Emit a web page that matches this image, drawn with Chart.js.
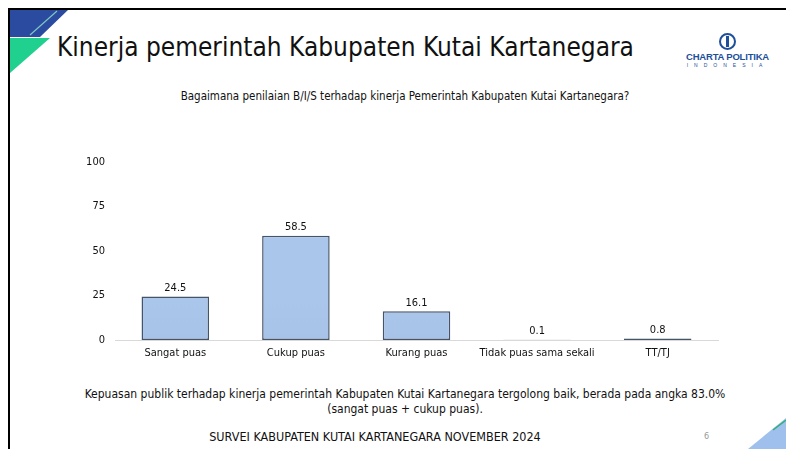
<!DOCTYPE html>
<html>
<head>
<meta charset="utf-8">
<script src="https://cdn.jsdelivr.net/npm/chart.js@4.4.1/dist/chart.umd.min.js"></script>
<style>
  html, body { margin: 0; padding: 0; background: #fff; }
  body { width: 786px; height: 449px; position: relative; overflow: hidden; font-family: Tahoma, "DejaVu Sans Condensed", "DejaVu Sans", sans-serif; }
  .border-top { position: absolute; left: 8px; top: 8px; width: 778px; height: 2px; background: #000; }
  .border-left { position: absolute; left: 8px; top: 8px; width: 2px; height: 441px; background: #000; }
  #title { position: absolute; left: 57px; top: 32px; font-size: 26px; color: #111; white-space: nowrap; }
  #subtitle { position: absolute; left: 0; width: 810px; top: 89px; text-align: center; font-size: 11.5px; color: #111; }
  #note { position: absolute; left: 40px; width: 730px; top: 387px; text-align: center; font-size: 12px; line-height: 15px; color: #111; }
  #footer { position: absolute; left: 0; width: 750px; top: 429px; text-align: center; font-size: 12.5px; color: #111; }
  #page { position: absolute; left: 704px; top: 431px; font-size: 9px; color: #999; }
  #logo { position: absolute; left: 680px; top: 33px; width: 95px; text-align: center; }
  #logo .ring { width: 13px; height: 13px; border: 2.5px solid #1d4f9a; border-radius: 50%; margin: 0 auto; position: relative; }
  #logo .ring:after { content: ""; position: absolute; left: 5px; top: 1px; width: 3px; height: 11px; background: #1d4f9a; }
  #logo .name { font-size: 9.5px; font-weight: bold; color: #1d4f9a; font-family: Arial, "Liberation Sans", sans-serif; margin-top: 1px; letter-spacing: -0.2px; }
  #logo .sub { font-size: 5px; color: #1d4f9a; letter-spacing: 6px; font-family: Arial, "Liberation Sans", sans-serif; }
  #chartBox { position: absolute; left: 60px; top: 140px; width: 680px; height: 232px; }
</style>
</head>
<body>
<div class="border-top"></div>
<div class="border-left"></div>
<svg style="position:absolute;left:0;top:0" width="786" height="449">
  <polygon points="10,10 68,10 40,37 10,37" fill="#2b4ba0"/>
  <polygon points="10,38 50,38 10,73" fill="#1fd08f"/>
  <line x1="30" y1="35" x2="57" y2="11" stroke="#7fc8c0" stroke-width="1.2"/>
  <polygon points="786,418 786,449 748,449" fill="#9fc0ec"/>
  <line x1="773" y1="430" x2="786" y2="420" stroke="#2fb07a" stroke-width="1.5"/>
</svg>
<div id="title">Kinerja pemerintah Kabupaten Kutai Kartanegara</div>
<div id="logo"><div class="ring"></div><div class="name">CHARTA POLITIKA</div><div class="sub">INDONESIA</div></div>
<div id="subtitle">Bagaimana penilaian B/I/S terhadap kinerja Pemerintah Kabupaten Kutai Kartanegara?</div>
<div id="chartBox"><canvas id="barChart"></canvas></div>
<div id="note">Kepuasan publik terhadap kinerja pemerintah Kabupaten Kutai Kartanegara tergolong baik, berada pada angka 83.0%<br>(sangat puas + cukup puas).</div>
<div id="footer">SURVEI KABUPATEN KUTAI KARTANEGARA NOVEMBER 2024</div>
<div id="page">6</div>
<script>
const categories = ['Sangat puas', 'Cukup puas', 'Kurang puas', 'Tidak puas sama sekali', 'TT/TJ'];
const values = [24.5, 58.5, 16.1, 0.1, 0.8];
const yTicks = [0, 25, 50, 75, 100];

const fontFamily = 'Tahoma, "DejaVu Sans Condensed", "DejaVu Sans", sans-serif';

const valueLabels = {
    id: 'valueLabels',
    afterDatasetsDraw(chart) {
        const ctx = chart.ctx;
        const meta = chart.getDatasetMeta(0);
        ctx.save();
        ctx.fillStyle = '#111';
        ctx.font = '11px ' + fontFamily;
        ctx.textAlign = 'center';
        ctx.textBaseline = 'bottom';
        meta.data.forEach((bar, i) => {
            ctx.fillText(values[i].toFixed(1), bar.x, bar.y - 3);
        });
        ctx.restore();
    }
};

const ctxBar = document.getElementById('barChart').getContext('2d');
const grad = ctxBar.createLinearGradient(0, 160, 0, 345);
grad.addColorStop(0, '#aac6ea');
grad.addColorStop(1, '#9cbae2');

new Chart(ctxBar, {
    type: 'bar',
    data: {
        labels: categories,
        datasets: [{
            data: values,
            backgroundColor: grad,
            borderColor: '#46546a',
            borderWidth: 1.5,
            borderSkipped: false,
            categoryPercentage: 1.0,
            barPercentage: 0.56
        }]
    },
    options: {
        responsive: true,
        maintainAspectRatio: false,
        animation: false,
        layout: { padding: { top: 22, right: 22, left: 0, bottom: 0 } },
        scales: {
            x: {
                afterFit: (s) => { s.height = 32; },
                grid: { display: false, drawTicks: false },
                border: { display: true, color: '#d9d9d9', width: 1 },
                ticks: { color: '#111', font: { size: 11, family: fontFamily }, padding: 7, maxRotation: 0, autoSkip: false }
            },
            y: {
                min: 0,
                max: 100,
                afterFit: (s) => { s.width = 55; },
                afterBuildTicks: (s) => { s.ticks = yTicks.map(v => ({ value: v })); },
                grid: { display: false, drawTicks: false },
                border: { display: false },
                ticks: { color: '#111', font: { size: 11, family: fontFamily }, padding: 10 }
            }
        },
        plugins: {
            legend: { display: false },
            tooltip: { enabled: false }
        }
    },
    plugins: [valueLabels]
});
</script>
</body>
</html>
